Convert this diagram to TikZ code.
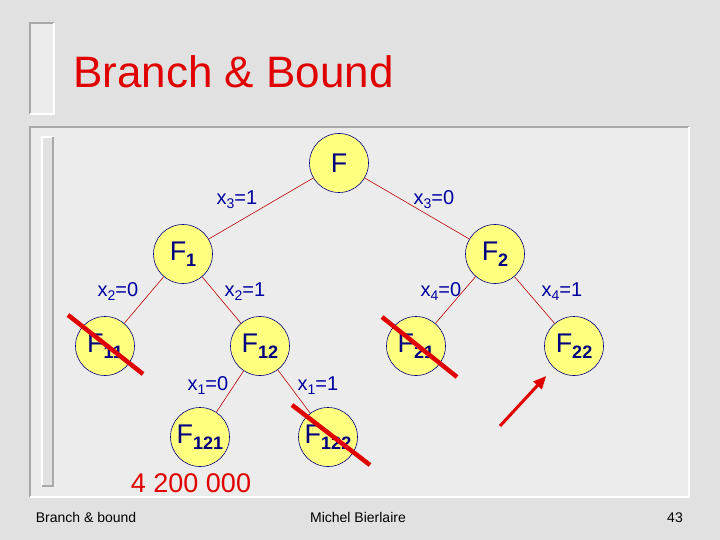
\documentclass[tikz,border=0pt]{standalone}
\usepackage{fontspec}
\setmainfont{Liberation Sans}
\usepackage{xcolor}
\usepackage{graphicx}
\usepackage{tikz}
\usetikzlibrary{calc, arrows.meta, positioning}

\definecolor{slidebg}{HTML}{E1E1E1}
\definecolor{panelbg}{HTML}{ECECEC}
\definecolor{edgegrey}{HTML}{A9A9A9}
\definecolor{titlered}{HTML}{E00000}
\definecolor{lblblue}{HTML}{0000A0}
\definecolor{nodenavy}{HTML}{000080}
\definecolor{nodeyellow}{HTML}{FFFF80}

\newcommand{\nsub}[1]{\raisebox{-6pt}{\fontsize{18}{18}\selectfont\bfseries #1}}
\newcommand{\lsub}[1]{\raisebox{-4pt}{\fontsize{14}{14}\selectfont #1}}

\begin{document}
\begin{tikzpicture}[x=1pt, y=-1pt,
			subset/.style={draw=nodenavy, fill=nodeyellow, circle, line width=0.6pt, minimum size=59pt, inner sep=0pt, text=nodenavy, font=\fontsize{27}{29}\selectfont},
			choice/.style={text=lblblue, inner sep=0pt, font=\fontsize{20}{22}\selectfont},
			branch/.style={draw=titlered!85!black, line width=0.6pt},
			pruned/.style={draw=titlered, line width=4.5pt},
			pointer/.style={draw=titlered, line width=3pt, -{Triangle[length=13pt, width=11pt]}},
			footer/.style={inner sep=0pt, anchor=base, font=\fontsize{14}{16}\selectfont}
			]
			\useasboundingbox (0,0) rectangle (720,540);
			\fill[slidebg] (0,0) rectangle (720,540);
			% title bar
			\fill[panelbg] (30,23) rectangle (54,114);
			\draw[edgegrey, line width=2pt] (30,114) -- (30,23) -- (54,23);
			\draw[white, line width=2pt] (54,23) -- (54,114) -- (30,114);
			\node [text=titlered, anchor=base west, inner sep=0pt, font=\fontsize{44}{48}\selectfont](title) at (73,88) {Branch \& Bound};
			% panel
			\fill[panelbg] (30,127) rectangle (689,497);
			\draw[edgegrey, line width=2.5pt] (30,497) -- (30,127) -- (689,127);
			\draw[white, line width=2.5pt] (689,127) -- (689,497) -- (30,497);
			\fill[slidebg] (42,137) rectangle (53,486);
			\draw[white, line width=2pt] (42,486) -- (42,137) -- (53,137);
			\draw[edgegrey, line width=2pt] (53,137) -- (53,486) -- (42,486);

			\node [subset](F) at (339,163) {F};
			\node [subset](F1) at (183,254) {F\nsub{1}};
			\node [subset](F2) at (495,254) {F\nsub{2}};
			\node [subset](F11) at (105,346) {F\nsub{11}};
			\node [subset](F12) at (260,346) {F\nsub{12}};
			\node [subset](F21) at (416,346) {F\nsub{21}};
			\node [subset](F22) at (574,346) {F\nsub{22}};
			\node [subset](F121) at (200,437) {F\nsub{121}};
			\node [subset](F122) at (328,437) {F\nsub{122}};

			\draw[branch] (F) -- (F1);
			\draw[branch] (F) -- (F2);
			\draw[branch] (F1) -- (F11);
			\draw[branch] (F1) -- (F12);
			\draw[branch] (F2) -- (F21);
			\draw[branch] (F2) -- (F22);
			\draw[branch] (F12) -- (F121);
			\draw[branch] (F12) -- (F122);

			\node [choice](x31) at (237,200) {x\lsub{3}=1};
			\node [choice](x30) at (434,200) {x\lsub{3}=0};
			\node [choice](x20) at (118,292) {x\lsub{2}=0};
			\node [choice](x21) at (245,292) {x\lsub{2}=1};
			\node [choice](x40) at (441,292) {x\lsub{4}=0};
			\node [choice](x41) at (562,292) {x\lsub{4}=1};
			\node [choice](x10) at (208,386) {x\lsub{1}=0};
			\node [choice](x11) at (318,386) {x\lsub{1}=1};

			% pruned subsets
			\draw[pruned] ($(F11)+(-37,-31)$) -- ($(F11)+(38,28)$);
			\draw[pruned] ($(F21)+(-34,-29)$) -- ($(F21)+(41,31)$);
			\draw[pruned] ($(F122)+(-36,-32)$) -- ($(F122)+(42,28)$);
			\coordinate (ptr) at (500,426);
			\draw[pointer, shorten >=11pt] (ptr) -- (F22);

			\node [text=titlered, inner sep=0pt, font=\fontsize{27}{29}\selectfont](bound) at (191,483) {4 200 000};

			\node [footer](ftitle) at (86,522) {Branch \& bound};
			\node [footer](fauthor) at (358,522) {Michel Bierlaire};
			\node [footer](fpage) at (675,522) {43};
		\end{tikzpicture}
\end{document}
